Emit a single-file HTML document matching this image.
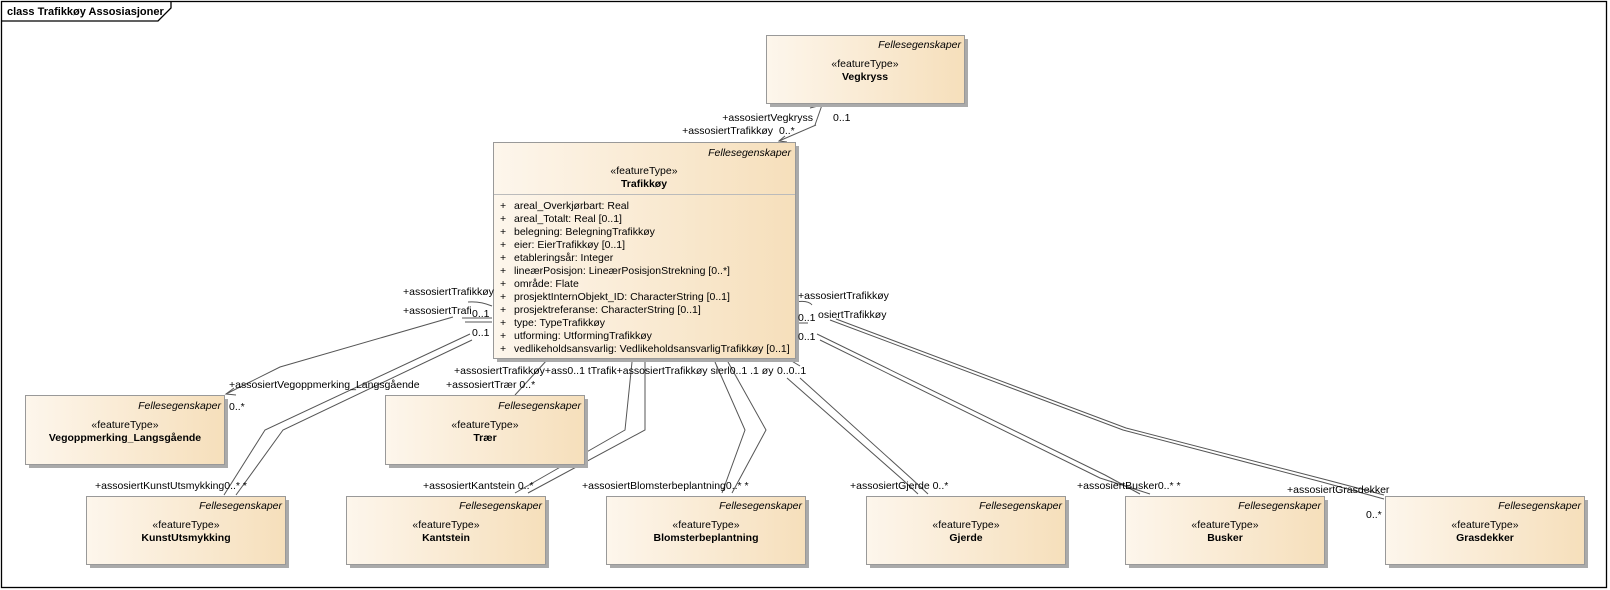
<!DOCTYPE html>
<html><head><meta charset="utf-8"><style>
html,body{margin:0;padding:0;background:#fff}
svg{display:block}
text{font-family:"Liberation Sans",Arial,sans-serif;fill:#000}
.l{font-size:10.5px}
.it{font-size:10.5px;font-style:italic}
.st{font-size:10.5px}
.nm{font-size:10.5px;font-weight:bold}
.ln{fill:none;stroke:#555;stroke-width:1}
</style></head><body>
<svg width="1610" height="590" viewBox="0 0 1610 590" xmlns="http://www.w3.org/2000/svg">
<defs>
<linearGradient id="g" x1="0" x2="1" y1="0" y2="0">
<stop offset="0" stop-color="#fdf6ec"/><stop offset="1" stop-color="#f6dfbb"/>
</linearGradient>
</defs>
<rect x="1.5" y="1.5" width="1605" height="586" fill="#fff" stroke="#000" stroke-width="1.3"/>
<path d="M1.5 21 H158 L171 8 V1.5" fill="none" stroke="#000" stroke-width="1.3"/>
<text x="7" y="15" style="font-size:11px;font-weight:bold">class Trafikkøy Assosiasjoner</text>

<!-- connectors -->
<g class="ln">
<path d="M810 108 L822 105 L815 125 M816 125 L779 141"/>
<path d="M785 136 L779 141 L787 142"/>
<path d="M453 317 L280 367 L226 394"/>
<path d="M234 388 L226 394 L236 395"/>
<path d="M470 334 L265 430 L224 495"/>
<path d="M472 340 L283 430 L236 495"/>
<path d="M547 360 L515 395"/>
<path d="M632 362 L625 430 L515 493"/>
<path d="M645 362 L645 430 L528 493"/>
<path d="M715 362 L745 430 L722 493"/>
<path d="M728 362 L766 430 L732 493"/>
<path d="M787 378 L903 480 L918 494"/>
<path d="M800 378 L913 480 L928 494"/>
<path d="M817 334 L1105 475 L1140 494"/>
<path d="M820 340 L1100 478 L1150 494"/>
<path d="M830 320 L1123 430 L1322 482 L1384 499"/>
<path d="M836 319 L1126 428 L1327 480 L1384 495"/>
<path d="M468 302 Q480 301 492 306"/>
<path d="M462 318 L492 318 M465 322 L492 322"/>
<path d="M796 302 Q808 300 812 305"/>
<path d="M795 323 L808 323"/>
<path d="M790 360 L800 366"/>
</g>

<!-- Vegkryss -->
<rect x="770" y="39" width="198" height="68" fill="#aaa"/>
<rect x="766.5" y="35.5" width="198" height="68" fill="url(#g)" stroke="#999"/>
<text class="it" x="961" y="48" text-anchor="end">Fellesegenskaper</text>
<text class="st" x="865" y="67" text-anchor="middle">«featureType»</text>
<text class="nm" x="865" y="80" text-anchor="middle">Vegkryss</text>

<!-- Trafikkøy -->
<rect x="497" y="146" width="302" height="216" fill="#aaa"/>
<rect x="493.5" y="142.5" width="302" height="216" fill="url(#g)" stroke="#999"/>
<line x1="494" y1="194.5" x2="795" y2="194.5" stroke="#bbb"/>
<text class="it" x="791" y="156" text-anchor="end">Fellesegenskaper</text>
<text class="st" x="644" y="174" text-anchor="middle">«featureType»</text>
<text class="nm" x="644" y="187" text-anchor="middle">Trafikkøy</text>
<g class="l" fill="#000">
<text x="500" y="209">+</text><text x="514" y="209">areal_Overkjørbart: Real</text>
<text x="500" y="222">+</text><text x="514" y="222">areal_Totalt: Real [0..1]</text>
<text x="500" y="235">+</text><text x="514" y="235">belegning: BelegningTrafikkøy</text>
<text x="500" y="248">+</text><text x="514" y="248">eier: EierTrafikkøy [0..1]</text>
<text x="500" y="261">+</text><text x="514" y="261">etableringsår: Integer</text>
<text x="500" y="274">+</text><text x="514" y="274">lineærPosisjon: LineærPosisjonStrekning [0..*]</text>
<text x="500" y="287">+</text><text x="514" y="287">område: Flate</text>
<text x="500" y="300">+</text><text x="514" y="300">prosjektInternObjekt_ID: CharacterString [0..1]</text>
<text x="500" y="313">+</text><text x="514" y="313">prosjektreferanse: CharacterString [0..1]</text>
<text x="500" y="326">+</text><text x="514" y="326">type: TypeTrafikkøy</text>
<text x="500" y="339">+</text><text x="514" y="339">utforming: UtformingTrafikkøy</text>
<text x="500" y="352">+</text><text x="514" y="352">vedlikeholdsansvarlig: VedlikeholdsansvarligTrafikkøy [0..1]</text>
</g>

<!-- small boxes -->
<g>
<rect x="29" y="399" width="199" height="69" fill="#aaa"/><rect x="25.5" y="395.5" width="199" height="69" fill="url(#g)" stroke="#999"/>
<text class="it" x="221" y="409" text-anchor="end">Fellesegenskaper</text>
<text class="st" x="125" y="428" text-anchor="middle">«featureType»</text>
<text class="nm" x="125" y="441" text-anchor="middle">Vegoppmerking_Langsgående</text>

<rect x="389" y="399" width="199" height="69" fill="#aaa"/><rect x="385.5" y="395.5" width="199" height="69" fill="url(#g)" stroke="#999"/>
<text class="it" x="581" y="409" text-anchor="end">Fellesegenskaper</text>
<text class="st" x="485" y="428" text-anchor="middle">«featureType»</text>
<text class="nm" x="485" y="441" text-anchor="middle">Trær</text>

<rect x="90" y="500" width="199" height="68" fill="#aaa"/><rect x="86.5" y="496.5" width="199" height="68" fill="url(#g)" stroke="#999"/>
<text class="it" x="282" y="509" text-anchor="end">Fellesegenskaper</text>
<text class="st" x="186" y="528" text-anchor="middle">«featureType»</text>
<text class="nm" x="186" y="541" text-anchor="middle">KunstUtsmykking</text>

<rect x="350" y="500" width="199" height="68" fill="#aaa"/><rect x="346.5" y="496.5" width="199" height="68" fill="url(#g)" stroke="#999"/>
<text class="it" x="542" y="509" text-anchor="end">Fellesegenskaper</text>
<text class="st" x="446" y="528" text-anchor="middle">«featureType»</text>
<text class="nm" x="446" y="541" text-anchor="middle">Kantstein</text>

<rect x="610" y="500" width="199" height="68" fill="#aaa"/><rect x="606.5" y="496.5" width="199" height="68" fill="url(#g)" stroke="#999"/>
<text class="it" x="802" y="509" text-anchor="end">Fellesegenskaper</text>
<text class="st" x="706" y="528" text-anchor="middle">«featureType»</text>
<text class="nm" x="706" y="541" text-anchor="middle">Blomsterbeplantning</text>

<rect x="870" y="500" width="199" height="68" fill="#aaa"/><rect x="866.5" y="496.5" width="199" height="68" fill="url(#g)" stroke="#999"/>
<text class="it" x="1062" y="509" text-anchor="end">Fellesegenskaper</text>
<text class="st" x="966" y="528" text-anchor="middle">«featureType»</text>
<text class="nm" x="966" y="541" text-anchor="middle">Gjerde</text>

<rect x="1129" y="500" width="199" height="68" fill="#aaa"/><rect x="1125.5" y="496.5" width="199" height="68" fill="url(#g)" stroke="#999"/>
<text class="it" x="1321" y="509" text-anchor="end">Fellesegenskaper</text>
<text class="st" x="1225" y="528" text-anchor="middle">«featureType»</text>
<text class="nm" x="1225" y="541" text-anchor="middle">Busker</text>

<rect x="1389" y="500" width="199" height="68" fill="#aaa"/><rect x="1385.5" y="496.5" width="199" height="68" fill="url(#g)" stroke="#999"/>
<text class="it" x="1581" y="509" text-anchor="end">Fellesegenskaper</text>
<text class="st" x="1485" y="528" text-anchor="middle">«featureType»</text>
<text class="nm" x="1485" y="541" text-anchor="middle">Grasdekker</text>
</g>

<!-- labels -->
<g class="l">
<text x="813" y="121" text-anchor="end">+assosiertVegkryss</text>
<text x="833" y="121">0..1</text>
<text x="773" y="134" text-anchor="end">+assosiertTrafikkøy</text>
<text x="779" y="134">0..*</text>
<text x="403" y="295">+assosiertTrafikkøy</text>
<text x="403" y="314">+assosiertTrafi</text>
<text x="472" y="317">0..1</text>
<text x="472" y="336">0..1</text>
<text x="798" y="299">+assosiertTrafikkøy</text>
<text x="818" y="318">osiertTrafikkøy</text>
<text x="798" y="321">0..1</text>
<text x="798" y="340">0..1</text>
<text x="454" y="374">+assosiertTrafikkøy+ass0..1 tTrafik+assosiertTrafikkøy sierl0..1 .1 øy</text>
<text x="777" y="374">0..0..1</text>
<text x="446" y="388">+assosiertTrær  0..*</text>
<text x="229" y="388">+assosiertVegoppmerking_Langsgående</text>
<text x="229" y="410">0..*</text>
<text x="95" y="489">+assosiertKunstUtsmykking0..* *</text>
<text x="423" y="489">+assosiertKantstein 0..*</text>
<text x="582" y="489">+assosiertBlomsterbeplantning0..* *</text>
<text x="850" y="489">+assosiertGjerde 0..*</text>
<text x="1077" y="489">+assosiertBusker0..* *</text>
<text x="1287" y="493">+assosiertGrasdekker</text>
<text x="1366" y="518">0..*</text>
</g>
</svg>
</body></html>
